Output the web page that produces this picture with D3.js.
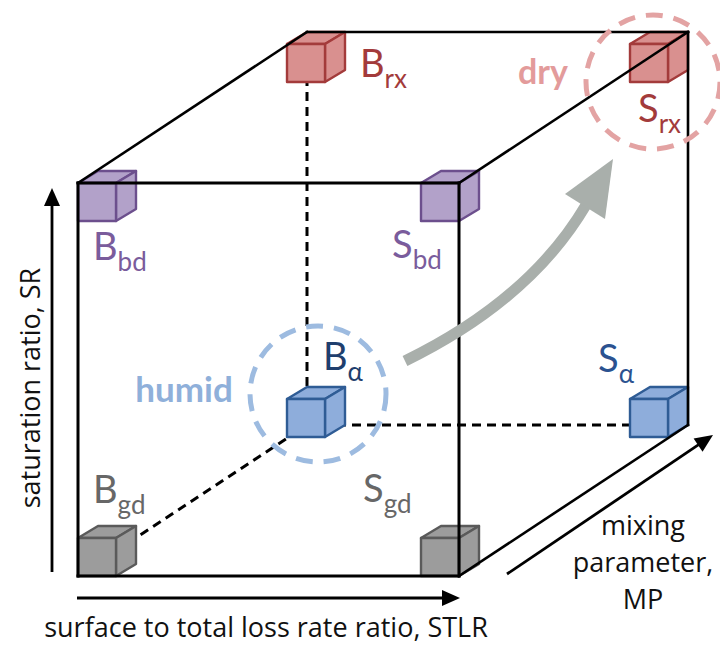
<!DOCTYPE html>
<html><head><meta charset="utf-8">
<script src="https://cdn.jsdelivr.net/npm/d3@7"></script>
<style>body{margin:0;background:#fff}svg{display:block}text{font-family:Lato,"Open Sans",sans-serif}</style>
</head><body>
<svg id="c" width="720" height="646"></svg>
<script>
// ---- data ----
const cornerNames = ["B_rx","S_rx","B_bd","S_bd","B_α","S_α","B_gd","S_gd"];
const stlrLevel   = [0,1,0,1,0,1,0,1];   // surface to total loss rate ratio (low/high)
const srLevel     = [1,1,1,1,0,0,0,0];   // saturation ratio (low/high)
const mpLevel     = [1,1,0,0,1,1,0,0];   // mixing parameter (low/high)
const regimeGroup = ["rx","rx","bd","bd","α","α","gd","gd"];
const axisLabels  = ["surface to total loss rate ratio, STLR","saturation ratio, SR",["mixing","parameter,","MP"]];
const climateLabels = ["humid","dry"];

// ---- styles ----
const fills   = {rx:"#d9908f", bd:"#b2a1c9", "α":"#8eaddb", gd:"#9c9c9c"};
const strokes = {rx:"#a33b3b", bd:"#6c4f8d", "α":"#2f5c95", gd:"#5a5a5a"};
const textCol = {"B_rx":"#a33b3b","S_rx":"#a33b3b","B_bd":"#7a5c9c","S_bd":"#7a5c9c","B_α":"#1f3f6e","S_α":"#2b5290","B_gd":"#676767","S_gd":"#676767"};

const svg = d3.select("#c");
const x = d3.scaleLinear().domain([0,1]).range([78,459]);
const y = d3.scaleLinear().domain([0,1]).range([576,183]);
const mx = d3.scaleLinear().domain([0,1]).range([0,229]);
const my = d3.scaleLinear().domain([0,1]).range([0,-151]);
const P = (s,r,m)=>[x(s)+mx(m), y(r)+my(m)];

const S=38, DX=20, DY=-12;

// dashed hidden edges
const dashed = [[[0,1,1],[0,0,1]],[[0,0,1],[1,0,1]],[[0,0,0],[0,0,1]]];
svg.append("g").selectAll("line").data(dashed).join("line")
  .attr("x1",d=>P(...d[0])[0]).attr("y1",d=>P(...d[0])[1])
  .attr("x2",d=>P(...d[1])[0]).attr("y2",d=>P(...d[1])[1])
  .attr("stroke","#000").attr("stroke-width",3).attr("stroke-dasharray","9,6");

// cubes
const cubes = cornerNames.map((n,i)=>{
  const [px,py]=P(stlrLevel[i],srLevel[i],mpLevel[i]);
  let fx,fy;
  if(mpLevel[i]===0){ fx = stlrLevel[i]===0?px:px-S; fy = srLevel[i]===1?py:py-S; }
  else { const bx = stlrLevel[i]===0?px:px-S; const by = srLevel[i]===1?py:py-S; fx=bx-DX; fy=by-DY; }
  return {n,g:regimeGroup[i],fx,fy,px,py,i};
});
const cg = svg.append("g").selectAll("g").data(cubes).join("g")
  .attr("fill",d=>fills[d.g]).attr("stroke",d=>strokes[d.g]).attr("stroke-width",2.4).attr("stroke-linejoin","round");
cg.append("path").attr("d",d=>`M${d.fx},${d.fy}L${d.fx+DX},${d.fy+DY}L${d.fx+S+DX},${d.fy+DY}L${d.fx+S},${d.fy}Z`);
cg.append("path").attr("d",d=>`M${d.fx+S},${d.fy}L${d.fx+S+DX},${d.fy+DY}L${d.fx+S+DX},${d.fy+S+DY}L${d.fx+S},${d.fy+S}Z`);
cg.append("rect").attr("x",d=>d.fx).attr("y",d=>d.fy).attr("width",S).attr("height",S);

// solid edges
const solid = [
 [[0,0,0],[1,0,0]],[[1,0,0],[1,1,0]],[[1,1,0],[0,1,0]],[[0,1,0],[0,0,0]],
 [[0,1,1],[1,1,1]],[[1,1,1],[1,0,1]],
 [[0,1,0],[0,1,1]],[[1,1,0],[1,1,1]],[[1,0,0],[1,0,1]]];
svg.append("g").selectAll("line").data(solid).join("line")
  .attr("x1",d=>P(...d[0])[0]).attr("y1",d=>P(...d[0])[1])
  .attr("x2",d=>P(...d[1])[0]).attr("y2",d=>P(...d[1])[1])
  .attr("stroke","#000").attr("stroke-width",d=>(d[0][2]===d[1][2]&&d[0][2]===0)?3:2.6).attr("stroke-linecap","square");

// climate circles
const hc = P(0,0,1), dc = P(1,1,1);
svg.append("circle").attr("cx",hc[0]+11).attr("cy",hc[1]-31).attr("r",68)
  .attr("fill","none").attr("stroke","#9dbbe0").attr("stroke-width",5).attr("stroke-dasharray","17,11");
svg.append("circle").attr("cx",dc[0]-35).attr("cy",dc[1]+50).attr("r",67)
  .attr("fill","none").attr("stroke","#e3a3a3").attr("stroke-width",5).attr("stroke-dasharray","17,11");

// gray transition arrow
svg.append("path").attr("d","M405,361 Q530,300 586,205").attr("fill","none")
  .attr("stroke","#a9afab").attr("stroke-width",11);
svg.append("path").attr("d","M565,194 L613,159 L605,219 Z").attr("fill","#a9afab");

// corner labels
const labOff = {"B_rx":[53,45],"S_rx":[-50,90],"B_bd":[15,77],"S_bd":[-67,75],"B_α":[16,-55],"S_α":[-90,-53],"B_gd":[15,-73],"S_gd":[-96,-74]};
const lt = svg.append("g").selectAll("text").data(cubes).join("text")
  .attr("x",d=>d.px+labOff[d.n][0]).attr("y",d=>d.py+labOff[d.n][1])
  .attr("fill",d=>textCol[d.n]).attr("font-size",38);
lt.append("tspan").text(d=>d.n.split("_")[0]);
lt.append("tspan").attr("font-size",26).attr("dy",11).text(d=>d.n.split("_")[1]);

svg.append("text").attr("x",184).attr("y",402).attr("text-anchor","middle").attr("font-weight","bold")
  .attr("font-size",35).attr("fill","#8fb0da").text(climateLabels[0]);
svg.append("text").attr("x",543).attr("y",84).attr("text-anchor","middle").attr("font-weight","bold")
  .attr("font-size",34).attr("fill","#e39b9b").text(climateLabels[1]);

// axis arrows (line + explicit head)
const arrows = [[77,598,460,598],[52,572,52,188],[507,574,713,435]];
const ag = svg.append("g").selectAll("g").data(arrows).join("g");
const HL=18, HW=8;
ag.append("line").attr("x1",d=>d[0]).attr("y1",d=>d[1])
  .attr("x2",d=>{const L=Math.hypot(d[2]-d[0],d[3]-d[1]);return d[2]-(d[2]-d[0])/L*(HL-2);})
  .attr("y2",d=>{const L=Math.hypot(d[2]-d[0],d[3]-d[1]);return d[3]-(d[3]-d[1])/L*(HL-2);})
  .attr("stroke","#000").attr("stroke-width",2.8);
ag.append("path").attr("fill","#000").attr("d",d=>{
  const L=Math.hypot(d[2]-d[0],d[3]-d[1]), ux=(d[2]-d[0])/L, uy=(d[3]-d[1])/L;
  const bx=d[2]-ux*HL, by=d[3]-uy*HL;
  return `M${d[2]},${d[3]}L${bx-uy*HW},${by+ux*HW}L${bx+uy*HW},${by-ux*HW}Z`;});

svg.append("text").attr("x",266).attr("y",637).attr("text-anchor","middle").attr("font-size",27)
  .style("font-family","'Open Sans',sans-serif").attr("fill","#111").text(axisLabels[0]);
svg.append("text").attr("transform","translate(40,388) rotate(-90)").attr("text-anchor","middle")
  .style("font-family","'Open Sans',sans-serif").attr("font-size",27).attr("fill","#111").text(axisLabels[1]);
svg.append("text").attr("text-anchor","middle").attr("font-size",27).attr("fill","#111")
  .style("font-family","'Open Sans',sans-serif")
  .selectAll("tspan").data(axisLabels[2]).join("tspan")
  .attr("x",643).attr("y",(d,i)=>535+i*37).text(d=>d);
</script>
</body></html>
